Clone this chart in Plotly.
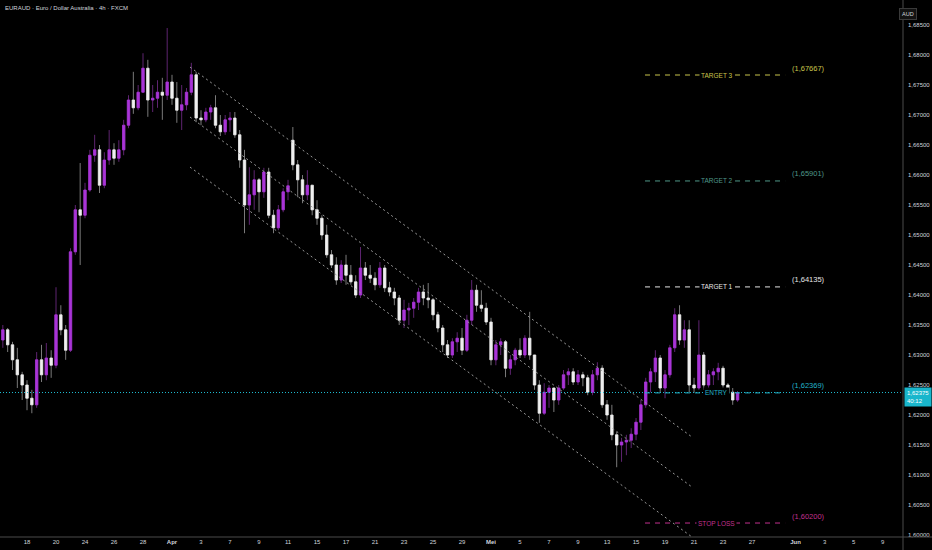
import plotly.graph_objects as go

# EURAUD 4h (FXCM) redrawn with 8h candles, 3 per trading day
# x axis = trading days counted from 18 Mar, weekends left out
first_day = -5 / 3
per_day = 3

opens = [
    1.6325, 1.6342, 1.6317, 1.6292, 1.6267, 1.6250, 1.6228, 1.6217, 1.6292, 1.6267,
    1.6295, 1.6283, 1.6367, 1.6342, 1.6308, 1.6472, 1.6542, 1.6533, 1.6575, 1.6633,
    1.6642, 1.6583, 1.6625, 1.6642, 1.6628, 1.6642, 1.6683, 1.6725, 1.6712, 1.6738,
    1.6778, 1.6725, 1.6728, 1.6738, 1.6733, 1.6755, 1.6728, 1.6708, 1.6717, 1.6738,
    1.6767, 1.6695, 1.6692, 1.6705, 1.6712, 1.6683, 1.6672, 1.6692, 1.6695, 1.6667,
    1.6625, 1.6550, 1.6567, 1.6592, 1.6572, 1.6605, 1.6533, 1.6512, 1.6542, 1.6572,
    1.6658, 1.6617, 1.6592, 1.6567, 1.6583, 1.6542, 1.6528, 1.6500, 1.6467, 1.6450,
    1.6425, 1.6450, 1.6433, 1.6422, 1.6400, 1.6445, 1.6433, 1.6428, 1.6417, 1.6445,
    1.6412, 1.6405, 1.6395, 1.6358, 1.6375, 1.6378, 1.6388, 1.6405, 1.6395, 1.6392,
    1.6367, 1.6345, 1.6317, 1.6300, 1.6322, 1.6328, 1.6308, 1.6358, 1.6408, 1.6383,
    1.6378, 1.6355, 1.6292, 1.6317, 1.6322, 1.6278, 1.6292, 1.6308, 1.6300, 1.6328,
    1.6300, 1.6250, 1.6203, 1.6238, 1.6245, 1.6225, 1.6245, 1.6267, 1.6272, 1.6255,
    1.6267, 1.6262, 1.6238, 1.6267, 1.6278, 1.6217, 1.6200, 1.6167, 1.6150, 1.6155,
    1.6158, 1.6168, 1.6188, 1.6217, 1.6255, 1.6272, 1.6295, 1.6245, 1.6267, 1.6312,
    1.6367, 1.6325, 1.6342, 1.6250, 1.6245, 1.6300, 1.6250, 1.6267, 1.6272, 1.6278,
    1.6250, 1.6238, 1.6225,
]
highs = [
    1.6350, 1.6345, 1.6322, 1.6312, 1.6272, 1.6258, 1.6242, 1.6305, 1.6317, 1.6320,
    1.6308, 1.6413, 1.6383, 1.6350, 1.6478, 1.6550, 1.6620, 1.6587, 1.6642, 1.6667,
    1.6650, 1.6638, 1.6675, 1.6653, 1.6658, 1.6692, 1.6733, 1.6772, 1.6750, 1.6803,
    1.6792, 1.6750, 1.6758, 1.6762, 1.6845, 1.6767, 1.6755, 1.6750, 1.6745, 1.6787,
    1.6772, 1.6708, 1.6712, 1.6717, 1.6733, 1.6700, 1.6700, 1.6705, 1.6705, 1.6675,
    1.6642, 1.6613, 1.6608, 1.6595, 1.6612, 1.6612, 1.6542, 1.6550, 1.6578, 1.6592,
    1.6680, 1.6625, 1.6600, 1.6608, 1.6583, 1.6558, 1.6533, 1.6517, 1.6475, 1.6463,
    1.6458, 1.6467, 1.6450, 1.6433, 1.6480, 1.6455, 1.6450, 1.6438, 1.6455, 1.6450,
    1.6422, 1.6412, 1.6400, 1.6392, 1.6387, 1.6395, 1.6412, 1.6417, 1.6420, 1.6395,
    1.6372, 1.6350, 1.6325, 1.6328, 1.6338, 1.6345, 1.6367, 1.6425, 1.6417, 1.6408,
    1.6387, 1.6362, 1.6325, 1.6328, 1.6325, 1.6300, 1.6312, 1.6328, 1.6333, 1.6372,
    1.6300, 1.6258, 1.6253, 1.6250, 1.6245, 1.6250, 1.6275, 1.6278, 1.6278, 1.6275,
    1.6272, 1.6267, 1.6275, 1.6288, 1.6283, 1.6225, 1.6217, 1.6172, 1.6162, 1.6167,
    1.6178, 1.6195, 1.6225, 1.6262, 1.6278, 1.6308, 1.6300, 1.6275, 1.6317, 1.6378,
    1.6383, 1.6358, 1.6358, 1.6262, 1.6358, 1.6305, 1.6275, 1.6278, 1.6287, 1.6282,
    1.6253, 1.6245, 1.6240,
]
lows = [
    1.6312, 1.6305, 1.6275, 1.6245, 1.6225, 1.6208, 1.6203, 1.6212, 1.6255, 1.6258,
    1.6262, 1.6278, 1.6333, 1.6292, 1.6305, 1.6467, 1.6450, 1.6528, 1.6572, 1.6622,
    1.6570, 1.6578, 1.6617, 1.6617, 1.6622, 1.6633, 1.6678, 1.6702, 1.6708, 1.6738,
    1.6697, 1.6705, 1.6712, 1.6692, 1.6725, 1.6717, 1.6687, 1.6675, 1.6708, 1.6733,
    1.6688, 1.6683, 1.6688, 1.6692, 1.6678, 1.6665, 1.6667, 1.6672, 1.6662, 1.6612,
    1.6503, 1.6517, 1.6542, 1.6538, 1.6562, 1.6528, 1.6503, 1.6508, 1.6538, 1.6558,
    1.6608, 1.6563, 1.6553, 1.6558, 1.6533, 1.6517, 1.6492, 1.6462, 1.6445, 1.6417,
    1.6420, 1.6417, 1.6417, 1.6395, 1.6395, 1.6425, 1.6420, 1.6408, 1.6412, 1.6405,
    1.6398, 1.6383, 1.6350, 1.6345, 1.6350, 1.6362, 1.6375, 1.6383, 1.6378, 1.6358,
    1.6338, 1.6305, 1.6295, 1.6295, 1.6305, 1.6300, 1.6305, 1.6350, 1.6372, 1.6372,
    1.6350, 1.6283, 1.6283, 1.6300, 1.6263, 1.6267, 1.6283, 1.6295, 1.6295, 1.6292,
    1.6242, 1.6187, 1.6200, 1.6212, 1.6205, 1.6217, 1.6242, 1.6250, 1.6250, 1.6250,
    1.6248, 1.6233, 1.6233, 1.6258, 1.6212, 1.6192, 1.6158, 1.6113, 1.6122, 1.6133,
    1.6145, 1.6158, 1.6175, 1.6212, 1.6238, 1.6255, 1.6238, 1.6228, 1.6262, 1.6305,
    1.6317, 1.6312, 1.6238, 1.6237, 1.6242, 1.6242, 1.6242, 1.6250, 1.6258, 1.6245,
    1.6232, 1.6217, 1.6222,
]
closes = [
    1.6342, 1.6317, 1.6292, 1.6267, 1.6250, 1.6228, 1.6217, 1.6292, 1.6267, 1.6295,
    1.6283, 1.6367, 1.6342, 1.6308, 1.6472, 1.6542, 1.6533, 1.6575, 1.6633, 1.6642,
    1.6583, 1.6625, 1.6642, 1.6628, 1.6642, 1.6683, 1.6725, 1.6712, 1.6738, 1.6778,
    1.6725, 1.6728, 1.6738, 1.6733, 1.6755, 1.6728, 1.6708, 1.6717, 1.6738, 1.6767,
    1.6695, 1.6692, 1.6705, 1.6712, 1.6683, 1.6672, 1.6692, 1.6695, 1.6667, 1.6625,
    1.6550, 1.6567, 1.6592, 1.6572, 1.6605, 1.6533, 1.6512, 1.6542, 1.6572, 1.6582,
    1.6617, 1.6592, 1.6567, 1.6583, 1.6542, 1.6528, 1.6500, 1.6467, 1.6450, 1.6425,
    1.6450, 1.6433, 1.6422, 1.6400, 1.6445, 1.6433, 1.6428, 1.6417, 1.6445, 1.6412,
    1.6405, 1.6395, 1.6358, 1.6375, 1.6378, 1.6388, 1.6405, 1.6395, 1.6392, 1.6367,
    1.6345, 1.6317, 1.6300, 1.6322, 1.6328, 1.6308, 1.6358, 1.6408, 1.6383, 1.6378,
    1.6355, 1.6292, 1.6317, 1.6322, 1.6278, 1.6292, 1.6308, 1.6300, 1.6328, 1.6300,
    1.6250, 1.6203, 1.6238, 1.6245, 1.6225, 1.6245, 1.6267, 1.6272, 1.6255, 1.6267,
    1.6262, 1.6238, 1.6267, 1.6278, 1.6217, 1.6200, 1.6167, 1.6150, 1.6155, 1.6158,
    1.6168, 1.6188, 1.6217, 1.6255, 1.6272, 1.6295, 1.6245, 1.6267, 1.6312, 1.6367,
    1.6325, 1.6342, 1.6250, 1.6245, 1.6300, 1.6250, 1.6267, 1.6272, 1.6278, 1.6250,
    1.6238, 1.6225, 1.62375,
]

# time axis labels (trading day number -> label)
tick_days = [0, 2, 4, 6, 8, 10, 12, 14, 16, 18, 20, 22, 24, 26, 28, 30,
             32, 34, 36, 38, 40, 42, 44, 46, 48, 50, 53, 55, 57, 59]
tick_text = ["18", "20", "24", "26", "28", "<b>Apr</b>", "3", "7", "9", "11", "15", "17",
             "21", "23", "25", "29", "<b>Mei</b>", "5", "7", "9", "13", "15", "19", "21",
             "23", "27", "<b>Jun</b>", "3", "5", "9"]

# descending channel (start day, end day) and prices of the three lines
channel_days = [11.24, 45.86]
channel_upper = [1.67800, 1.61633]
channel_mid = [1.66967, 1.60800]
channel_lower = [1.66133, 1.59967]

# trade plan levels
level_names = ["TARGET 3", "TARGET 2", "TARGET 1", "ENTRY", "STOP LOSS"]
level_prices = [1.67667, 1.65901, 1.64135, 1.62369, 1.60200]
level_colors = ["#c9c54c", "#4f9889", "#e6e6e6", "#22b3c8", "#c0308e"]

countdown = "40:12"

x = [first_day + i / per_day for i in range(len(closes))]
body_top = [max(o, c) for o, c in zip(opens, closes)]
body_bot = [min(o, c) for o, c in zip(opens, closes)]

fig = go.Figure()

# full candles in dim colours -> these give the wicks
fig.add_trace(go.Candlestick(
    x=x, open=opens, high=highs, low=lows, close=closes,
    increasing=dict(line=dict(color="#5e2470", width=1), fillcolor="#5e2470"),
    decreasing=dict(line=dict(color="#7a7a7a", width=1), fillcolor="#7a7a7a"),
    whiskerwidth=0, showlegend=False, hoverinfo="skip",
))
# bodies only, bright, drawn over the dim ones
fig.add_trace(go.Candlestick(
    x=x, open=opens, high=body_top, low=body_bot, close=closes,
    increasing=dict(line=dict(color="#a934d8", width=0.6), fillcolor="#a934d8"),
    decreasing=dict(line=dict(color="#f0f0f0", width=0.6), fillcolor="#f0f0f0"),
    whiskerwidth=0, showlegend=False, hoverinfo="skip",
))

chan_style = dict(color="#9a9a9a", width=1, dash="2px,3px")
for ys in (channel_upper, channel_mid, channel_lower):
    fig.add_trace(go.Scatter(x=channel_days, y=ys, mode="lines", line=chan_style,
                             showlegend=False, hoverinfo="skip"))

shapes = []
annotations = []

# live price line
last = closes[-1]
shapes.append(dict(type="line", xref="paper", x0=0, x1=1, yref="y", y0=last, y1=last,
                   line=dict(color="#1fbcd2", width=1, dash="1px,2px")))

lvl_x0, lvl_x1, lvl_mid, lvl_tag = 42.62, 52.28, 47.55, 53.86
for name, price, col in zip(level_names, level_prices, level_colors):
    shapes.append(dict(type="line", xref="x", x0=lvl_x0, x1=lvl_x1, yref="y", y0=price, y1=price,
                       line=dict(color=col, width=1, dash="5px,5px")))
    annotations.append(dict(x=lvl_mid, y=price, xref="x", yref="y", text=name, showarrow=False,
                            font=dict(size=6.5, color=col, family="Liberation Sans"),
                            bgcolor="#000000", borderpad=1))
    tag = "(" + f"{price:.5f}".replace(".", ",") + ")"
    annotations.append(dict(x=lvl_tag, y=price, xref="x", yref="y", text=tag, showarrow=False,
                            yshift=7, font=dict(size=7.5, color=col, family="Liberation Sans")))

# axis frame lines
shapes.append(dict(type="line", xref="paper", x0=0, x1=932 / 903, yref="paper", y0=0, y1=0,
                   line=dict(color="#4a4a4a", width=1)))
shapes.append(dict(type="line", xref="paper", x0=1, x1=1, yref="paper", y0=-13 / 537, y1=1,
                   line=dict(color="#4a4a4a", width=1)))

annotations.append(dict(xref="paper", yref="paper", x=0, y=1, xanchor="left", yanchor="top",
                        xshift=3, yshift=-3, showarrow=False,
                        text="EURAUD · Euro / Dollar Australia · 4h · FXCM",
                        font=dict(size=6, color="#d1d4dc", family="Liberation Sans")))
annotations.append(dict(xref="paper", yref="paper", x=917.5 / 903, y=1 - 7.5 / 537,
                        showarrow=False, text="AUD", bgcolor="#121212", bordercolor="#3a3a3a",
                        borderwidth=1, borderpad=2,
                        font=dict(size=5.5, color="#d1d4dc", family="Liberation Sans")))
annotations.append(dict(xref="paper", yref="y", x=1, y=last, xanchor="left", yanchor="middle",
                        xshift=1, yshift=-4, showarrow=False,
                        text=f"{last:.5f}".replace(".", ",") + "<br>" + countdown,
                        align="left", bgcolor="#19b6cc", borderpad=2,
                        font=dict(size=6, color="#ffffff", family="Liberation Sans")))

fig.update_layout(
    width=932, height=550,
    margin=dict(l=0, r=29, t=0, b=13),
    paper_bgcolor="#000000", plot_bgcolor="#000000",
    separators=", ",
    showlegend=False,
    shapes=shapes,
    annotations=annotations,
    xaxis=dict(range=[-1.862, 60.41], tickvals=tick_days, ticktext=tick_text,
               showgrid=False, zeroline=False, showline=False, ticks="",
               tickfont=dict(size=6, color="#d1d4dc", family="Liberation Sans"),
               rangeslider=dict(visible=False), fixedrange=True),
    yaxis=dict(range=[1.59967, 1.68917], side="right", tick0=1.6, dtick=0.005,
               tickformat=".5f", showgrid=False, zeroline=False, showline=False, ticks="",
               ticklabelstandoff=4,
               tickfont=dict(size=6, color="#d1d4dc", family="Liberation Sans"),
               fixedrange=True),
)

# page has a default 8px body margin; drop it so the chart sits at 0,0
page_fix = ("document.body.style.margin='0';"
            "document.body.style.background='#000';"
            "document.documentElement.style.overflow='hidden';")
fig.write_html("out.html", post_script=page_fix, config={"displayModeBar": False})
